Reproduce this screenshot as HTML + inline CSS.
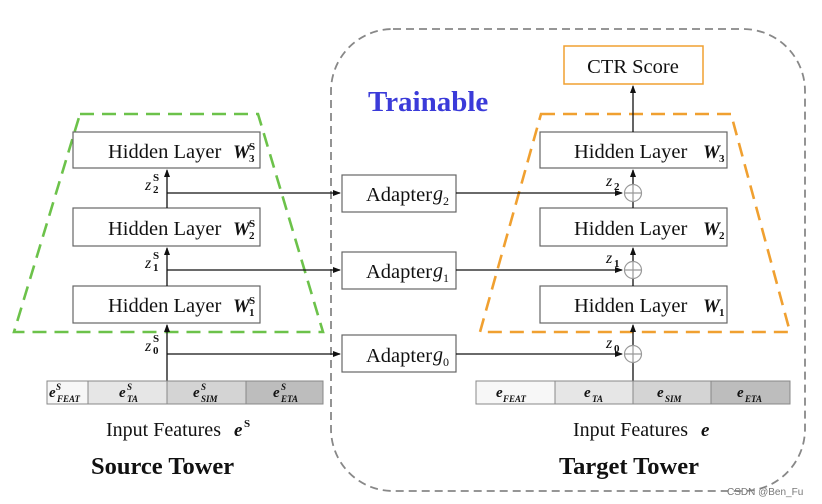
<!DOCTYPE html>
<html><head><meta charset="utf-8"><style>
html,body{margin:0;padding:0;background:#fff;}
svg{display:block;}
text{font-family:"Liberation Serif",serif;fill:#111;}
.b{font-weight:bold;font-style:italic;}
</style></head><body>
<svg width="822" height="504" viewBox="0 0 822 504" xmlns="http://www.w3.org/2000/svg">
<defs><marker id="a" markerWidth="8" markerHeight="8" refX="7" refY="4" orient="auto" markerUnits="userSpaceOnUse"><path d="M0,1 L8,4 L0,7 z" fill="#111"/></marker></defs>
<rect x="331" y="29" width="474" height="462" rx="62" fill="none" stroke="#888" stroke-width="1.8" stroke-dasharray="8,5"/>
<text x="368" y="111" font-size="29" font-weight="bold" style="fill:#3b3bd9">Trainable</text>
<path d="M80,114 L258,114 L323,332 L14,332 Z" fill="none" stroke="#6cc24a" stroke-width="2.6" stroke-dasharray="14,8"/>
<path d="M541,114 L731,114 L790,332 L480,332 Z" fill="none" stroke="#f0a030" stroke-width="2.6" stroke-dasharray="14,8"/>
<g fill="#fff" stroke="#666" stroke-width="1.2">
<rect x="73" y="132" width="187" height="36"/><rect x="73" y="208" width="187" height="38"/><rect x="73" y="286" width="187" height="37"/>
<rect x="540" y="132" width="187" height="36"/><rect x="540" y="208" width="187" height="38"/><rect x="540" y="286" width="187" height="37"/>
<rect x="342" y="175" width="114" height="37"/><rect x="342" y="252" width="114" height="37"/><rect x="342" y="335" width="114" height="37"/>
</g>
<rect x="564" y="46" width="139" height="38" fill="#fff" stroke="#f0a030" stroke-width="1.5"/>
<text x="633" y="73" font-size="20.5" text-anchor="middle">CTR Score</text>
<g font-size="20.5">
<text x="108" y="158">Hidden Layer</text><text x="108" y="235">Hidden Layer</text><text x="108" y="312">Hidden Layer</text>
<text x="574" y="158">Hidden Layer</text><text x="574" y="235">Hidden Layer</text><text x="574" y="312">Hidden Layer</text>
<text x="366" y="201">Adapter</text><text x="366" y="278">Adapter</text><text x="366" y="362">Adapter</text>
</g>
<g font-size="19">
<text x="233" y="158" class="b">W</text><text x="233" y="235" class="b">W</text><text x="233" y="312" class="b">W</text>
<text x="703" y="158" class="b">W</text><text x="703" y="235" class="b">W</text><text x="703" y="312" class="b">W</text>
</g>
<g font-size="11" font-weight="bold">
<text x="249" y="150">S</text><text x="249" y="162">3</text>
<text x="249" y="227">S</text><text x="249" y="239">2</text>
<text x="249" y="304">S</text><text x="249" y="316">1</text>
<text x="719" y="162">3</text><text x="719" y="239">2</text><text x="719" y="316">1</text>
</g>
<g font-size="20" font-style="italic"><text x="433" y="200">g</text><text x="433" y="277">g</text><text x="433" y="361">g</text></g>
<g font-size="12"><text x="443" y="205">2</text><text x="443" y="282">1</text><text x="443" y="366">0</text></g>
<g stroke="#111" stroke-width="1.3" fill="none">
<line x1="167" y1="381" x2="167" y2="325" marker-end="url(#a)"/>
<line x1="167" y1="286" x2="167" y2="248" marker-end="url(#a)"/>
<line x1="167" y1="208" x2="167" y2="170" marker-end="url(#a)"/>
<line x1="167" y1="193" x2="340" y2="193" marker-end="url(#a)"/>
<line x1="167" y1="270" x2="340" y2="270" marker-end="url(#a)"/>
<line x1="167" y1="354" x2="340" y2="354" marker-end="url(#a)"/>
<line x1="456" y1="193" x2="622" y2="193" marker-end="url(#a)"/>
<line x1="456" y1="270" x2="622" y2="270" marker-end="url(#a)"/>
<line x1="456" y1="354" x2="622" y2="354" marker-end="url(#a)"/>
<line x1="633" y1="381" x2="633" y2="363"/>
<line x1="633" y1="345" x2="633" y2="325" marker-end="url(#a)"/>
<line x1="633" y1="286" x2="633" y2="279"/>
<line x1="633" y1="261" x2="633" y2="248" marker-end="url(#a)"/>
<line x1="633" y1="208" x2="633" y2="202"/>
<line x1="633" y1="184" x2="633" y2="170" marker-end="url(#a)"/>
<line x1="633" y1="132" x2="633" y2="86" marker-end="url(#a)"/>
</g>
<g stroke="#999" stroke-width="1.2" fill="#fff">
<circle cx="633" cy="193" r="8.5"/><circle cx="633" cy="270" r="8.5"/><circle cx="633" cy="354" r="8.5"/>
<path d="M624.5,193 H641.5 M633,184.5 V201.5 M624.5,270 H641.5 M633,261.5 V278.5 M624.5,354 H641.5 M633,345.5 V362.5" fill="none"/>
</g>
<g font-size="16" font-style="italic">
<text x="145" y="190">z</text><text x="145" y="268">z</text><text x="145" y="351">z</text>
<text x="606" y="186">z</text><text x="606" y="263">z</text><text x="606" y="348">z</text>
</g>
<g font-size="11" font-weight="bold">
<text x="153" y="181">S</text><text x="153" y="193">2</text>
<text x="153" y="259">S</text><text x="153" y="271">1</text>
<text x="153" y="342">S</text><text x="153" y="354">0</text>
<text x="614" y="190">2</text><text x="614" y="267">1</text><text x="614" y="352">0</text>
</g>
<g stroke="#888" stroke-width="1">
<rect x="47" y="381" width="41" height="23" fill="#f7f7f7"/><rect x="88" y="381" width="79" height="23" fill="#e6e6e6"/>
<rect x="167" y="381" width="79" height="23" fill="#d4d4d4"/><rect x="246" y="381" width="77" height="23" fill="#bdbdbd"/>
<rect x="476" y="381" width="79" height="23" fill="#f7f7f7"/><rect x="555" y="381" width="78" height="23" fill="#e6e6e6"/>
<rect x="633" y="381" width="78" height="23" fill="#d4d4d4"/><rect x="711" y="381" width="79" height="23" fill="#bdbdbd"/>
</g>
<g font-size="15">
<text x="49" y="397" class="b">e</text><text x="119" y="397" class="b">e</text><text x="193" y="397" class="b">e</text><text x="273" y="397" class="b">e</text>
<text x="496" y="397" class="b">e</text><text x="584" y="397" class="b">e</text><text x="657" y="397" class="b">e</text><text x="737" y="397" class="b">e</text>
</g>
<g font-size="9" font-weight="bold" font-style="italic">
<text x="56" y="390">S</text><text x="57" y="402">FEAT</text>
<text x="127" y="390">S</text><text x="127" y="402">TA</text>
<text x="201" y="390">S</text><text x="201" y="402">SIM</text>
<text x="281" y="390">S</text><text x="281" y="402">ETA</text>
<text x="503" y="402">FEAT</text><text x="592" y="402">TA</text><text x="665" y="402">SIM</text><text x="745" y="402">ETA</text>
</g>
<text x="106" y="436" font-size="20">Input Features</text>
<text x="234" y="436" font-size="19" class="b">e</text><text x="244" y="427" font-size="11" font-weight="bold">S</text>
<text x="573" y="436" font-size="20">Input Features</text>
<text x="701" y="436" font-size="19" class="b">e</text>
<text x="91" y="474" font-size="24.5" font-weight="bold">Source Tower</text>
<text x="559" y="474" font-size="24.5" font-weight="bold">Target Tower</text>
<text x="727" y="495" font-size="10" style="font-family:'Liberation Sans',sans-serif;fill:#777">CSDN @Ben_Fu</text>
</svg>
</body></html>
